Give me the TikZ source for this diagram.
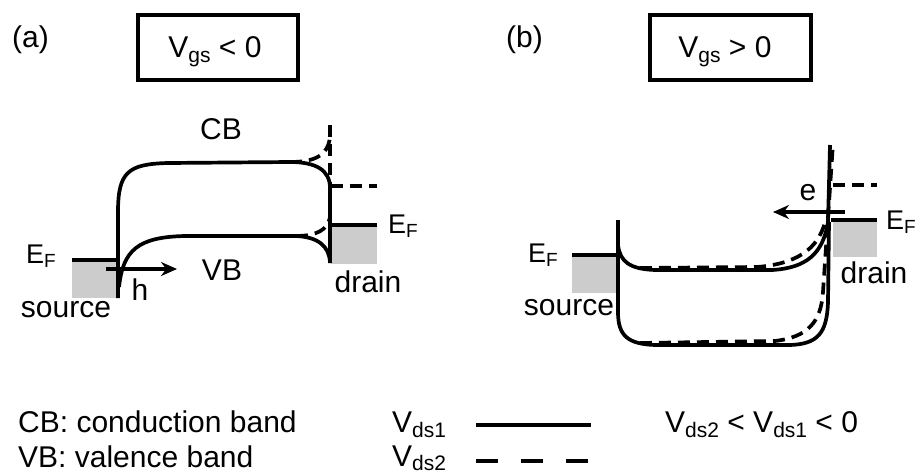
\documentclass[tikz,border=0pt]{standalone}
\usepackage{fontspec}
\setmainfont{Liberation Sans}
\usetikzlibrary{arrows.meta}
\definecolor{fillgray}{RGB}{204,204,204}
\newcommand\sbs[1]{\raisebox{-5pt}{\fontsize{21}{21}\selectfont #1}}
\newcommand\EF{E\raisebox{-4.5pt}{\fontsize{19}{19}\selectfont F}}
\begin{document}
\begin{tikzpicture}[x=1pt,y=-1pt,
  band/.style={line width=3.7pt},
  banddash/.style={line width=3.7pt, dash pattern=on 12pt off 7pt},
  lbl/.style={inner sep=0pt, anchor=base, font=\fontsize{30}{32}\selectfont},
  lblw/.style={inner sep=0pt, anchor=base west, font=\fontsize{30}{32}\selectfont},
  ef/.style={inner sep=0pt, anchor=base west, font=\fontsize{27}{29}\selectfont},
  vbox/.style={draw, line width=3.5pt},
  arr/.style={line width=3.5pt, -{Stealth[length=16pt,width=14pt]}},
  lead/.style={line width=3.7pt}]
\useasboundingbox (0,0) rectangle (922,475);

% ---------- headers ----------
\node[lblw] (la) at (12,47) {(a)};
\node[lblw] (lb) at (506,47) {(b)};
\draw[vbox] (138,15) rectangle (298,80);
\node[lbl] (vgsa) at (215,57) {V\sbs{gs} {<} 0};
\draw[vbox] (650,15) rectangle (811,80);
\node[lbl] (vgsb) at (725,57) {V\sbs{gs} {>} 0};

% ---------- panel (a) ----------
\fill[fillgray] (72,260) rectangle (118,298);
\fill[fillgray] (331,225) rectangle (377,264);
\draw[lead] (72,260) -- (118,260);
\draw[lead] (330,225) -- (377,225);
% CB solid
\draw[band] (118,298) -- (118,212) .. controls (118,172) and (128,164) .. (168,163)
  -- (290,162) .. controls (316,162) and (330,170) .. (330,188) -- (330,263);
% VB solid
\draw[band] (119,287) .. controls (123,250) and (138,237) .. (185,236)
  -- (296,236) .. controls (318,237) and (329,246) .. (330,262);
% dashed
\draw[banddash] (290,162) .. controls (314,162) and (328,156) .. (330,137);
\draw[banddash] (330,125) -- (330,186);
\draw[banddash] (331,186) -- (377,186);
\draw[banddash] (296,236) .. controls (316,236) and (328,230) .. (330,217);
% arrow h
\coordinate (ha) at (106,269);
\coordinate (hb) at (177,269);
\draw[arr] (ha) -- (hb);
\node[lbl] (cba) at (221,139) {CB};
\node[lbl] (vba) at (222,280) {VB};
\node[lbl] (h) at (140,300) {h};
\node[lbl] (srca) at (66,317) {source};
\node[lbl] (dra) at (368,292) {drain};
\node[ef] (efa1) at (26,263) {\EF};
\node[ef] (efa2) at (388,233) {\EF};

% ---------- panel (b) ----------
\fill[fillgray] (572,255) rectangle (618,293);
\fill[fillgray] (833,220) rectangle (877,257);
\draw[lead] (572,255) -- (618,255);
\draw[lead] (831,220) -- (877,220);
\draw[banddash] (833,185) -- (877,185);
% solid
\draw[band] (618,220) -- (618,312) .. controls (618,336) and (628,344) .. (655,345)
  -- (790,345) .. controls (817,344) and (827,334) .. (828,302) -- (829,222);
\draw[band] (618,245) .. controls (620,262) and (630,269) .. (655,270)
  -- (772,270) .. controls (806,268) and (823,254) .. (828,222) -- (830,145);
% dashed
\draw[banddash] (640,268) -- (757,267) .. controls (795,264) and (818,250) .. (825,222);
\draw[banddash] (640,343) -- (775,341) .. controls (808,337) and (821,322) .. (823,292) -- (833,143);
% arrow e
\coordinate (ea) at (845,212);
\coordinate (eb) at (773,212);
\draw[arr] (ea) -- (eb);
\node[lbl] (e) at (808,200) {e};
\node[lbl] (srcb) at (569,315) {source};
\node[lbl] (drb) at (874,283) {drain};
\node[ef] (efb1) at (528,262) {\EF};
\node[ef] (efb2) at (886,229) {\EF};

% ---------- legend ----------
\node[lblw] (cbl) at (18,432) {CB: conduction band};
\node[lblw] (vbl) at (18,467) {VB: valence band};
\node[lblw] (v1) at (392,432) {V\sbs{ds1}};
\node[lblw] (v2) at (392,466) {V\raisebox{-4pt}{\fontsize{21}{21}\selectfont ds2}};
\coordinate (s1) at (476,425);
\coordinate (s2) at (591,425);
\coordinate (d1) at (476,461);
\coordinate (d2) at (591,461);
\draw[line width=4pt] (s1) -- (s2);
\draw[line width=4pt, dash pattern=on 22pt off 23pt] (d1) -- (d2);
\node[lblw] (rel) at (665,432) {V\sbs{ds2} {<} V\sbs{ds1} {<} 0};
\end{tikzpicture}
\end{document}
